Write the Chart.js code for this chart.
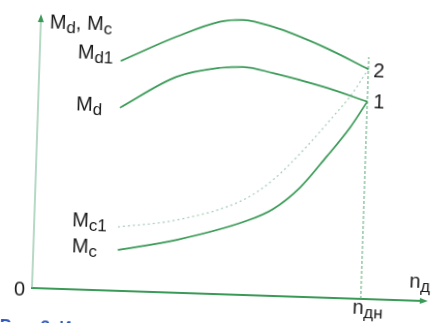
<!DOCTYPE html>
<html>
<head>
<meta charset="utf-8">
<style>
html, body { margin: 0; padding: 0; background: #fff; overflow: hidden; }
/* the scan is tilted a little, so the whole canvas is tilted too */
#chart { display: block; transform: rotate(1.9deg); transform-origin: 32px 288px; }
</style>
<script src="https://cdn.jsdelivr.net/npm/chart.js@4/dist/chart.umd.min.js"></script>
</head>
<body>
<canvas id="chart" width="435" height="323"></canvas>
<script>
// n — speed in % of nдн, M — torque in arbitrary units (0..100)
const md1N = [24.7, 41.4, 54.4, 61.4, 70.6, 86.0, 100];
const md1M = [82.1, 91.4, 97.3, 98.2, 96.1, 89.6, 82.1];

const mdN = [24.9, 41.8, 54.9, 61.9, 71.0, 86.4, 100];
const mdM = [65.4, 77.1, 80.8, 81.4, 79.6, 75.3, 70.5];

const mc1N = [25.5, 43.3, 63.2, 72.1, 82.0, 89.7, 94.7, 100];
const mc1M = [22.8, 26.0, 33.9, 41.4, 53.7, 64.7, 72.1, 82.1];

const mcN = [25.7, 43.5, 64.5, 72.4, 80.4, 88.2, 95.0, 100];
const mcM = [14.6, 18.9, 26.5, 31.0, 39.0, 50.4, 61.0, 70.5];

const nRated = 100;
const xAxisEnd = 120.4;
const yAxisEnd = 97.9;
const ratedLineTop = 86.4;

const green = '#3a9a57';

function points(xs, ys) {
    return xs.map((x, i) => ({ x: x, y: ys[i] }));
}

function line(label, xs, ys, extra) {
    return Object.assign({
        label: label,
        data: points(xs, ys),
        borderColor: green,
        borderWidth: 1.7,
        pointRadius: 0,
        fill: false,
        cubicInterpolationMode: 'monotone'
    }, extra || {});
}

// M with a subscript, e.g. M + "d1"
function drawSub(ctx, x, y, parts) {
    let cx = x;
    parts.forEach(p => {
        ctx.font = p.sub ? '17px "Liberation Sans", Arial, sans-serif' : '20px "Liberation Sans", Arial, sans-serif';
        ctx.fillText(p.t, cx, p.sub ? y + 4 : y);
        cx += ctx.measureText(p.t).width;
    });
}

const axesPlugin = {
    id: 'axes',
    beforeDatasetsDraw(chart) {
        const ctx = chart.ctx;
        const xs = chart.scales.x, ys = chart.scales.y;
        const x0 = xs.getPixelForValue(0), y0 = ys.getPixelForValue(0);
        const xEnd = xs.getPixelForValue(xAxisEnd), yEnd = ys.getPixelForValue(yAxisEnd);
        ctx.save();
        ctx.strokeStyle = green;
        ctx.fillStyle = green;

        // x axis
        ctx.lineWidth = 1.8;
        ctx.beginPath();
        ctx.moveTo(x0 - 1, y0);
        ctx.lineTo(xEnd - 6, y0);
        ctx.stroke();
        ctx.beginPath();
        ctx.moveTo(xEnd, y0);
        ctx.lineTo(xEnd - 8, y0 - 3);
        ctx.lineTo(xEnd - 8, y0 + 3);
        ctx.closePath();
        ctx.fill();

        // y axis
        ctx.strokeStyle = '#6fb38a';
        ctx.lineWidth = 1;
        ctx.beginPath();
        ctx.moveTo(x0, y0);
        ctx.lineTo(x0, yEnd + 6);
        ctx.stroke();
        ctx.fillStyle = green;
        ctx.beginPath();
        ctx.moveTo(x0, yEnd);
        ctx.lineTo(x0 - 3, yEnd + 8);
        ctx.lineTo(x0 + 3, yEnd + 8);
        ctx.closePath();
        ctx.fill();

        // rated speed line
        const xr = xs.getPixelForValue(nRated);
        ctx.strokeStyle = '#5aa877';
        ctx.lineWidth = 1;
        ctx.setLineDash([3, 2]);
        ctx.beginPath();
        ctx.moveTo(xr, y0);
        ctx.lineTo(xr, ys.getPixelForValue(ratedLineTop));
        ctx.stroke();
        ctx.restore();
    },
    afterDraw(chart) {
        const ctx = chart.ctx;
        ctx.save();
        ctx.fillStyle = '#1a1a1a';
        ctx.textBaseline = 'alphabetic';
        drawSub(ctx, 41, 27.5, [{ t: 'M' }, { t: 'd', sub: true }, { t: ', M' }, { t: 'c', sub: true }]);
        drawSub(ctx, 70, 57, [{ t: 'M' }, { t: 'd1', sub: true }]);
        drawSub(ctx, 70, 109, [{ t: 'M' }, { t: 'd', sub: true }]);
        drawSub(ctx, 70, 225, [{ t: 'M' }, { t: 'c1', sub: true }]);
        drawSub(ctx, 70.5, 251, [{ t: 'M' }, { t: 'c', sub: true }]);
        drawSub(ctx, 409, 275, [{ t: 'n' }, { t: 'д', sub: true }]);
        drawSub(ctx, 353, 302.5, [{ t: 'n' }, { t: 'дн', sub: true }]);
        ctx.font = '20px "Liberation Sans", Arial, sans-serif';
        ctx.fillText('0', 14, 296);
        ctx.fillText('2', 366, 66);
        ctx.fillText('1', 367, 96.5);

        // caption, cut off by the bottom edge
        ctx.fillStyle = '#2c57b8';
        ctx.font = 'bold 17px "Liberation Sans", Arial, sans-serif';
        ctx.textBaseline = 'top';
        ctx.fillText('Рис. 3. И', 1, 319);
        ctx.restore();
    }
};

new Chart(document.getElementById('chart'), {
    type: 'line',
    data: {
        datasets: [
            line('Md1', md1N, md1M),
            line('Md', mdN, mdM),
            line('Mc1', mc1N, mc1M, { borderColor: '#a8cfbb', borderWidth: 1.3, borderDash: [2, 3] }),
            line('Mc', mcN, mcM)
        ]
    },
    options: {
        responsive: false,
        animation: false,
        layout: { padding: { left: 32, top: 8, right: 3, bottom: 35 } },
        scales: {
            x: { type: 'linear', display: false, min: 0, max: 121.6 },
            y: { display: false, min: 0, max: 100 }
        },
        plugins: {
            legend: { display: false },
            tooltip: { enabled: false }
        }
    },
    plugins: [axesPlugin]
});
</script>
</body>
</html>
